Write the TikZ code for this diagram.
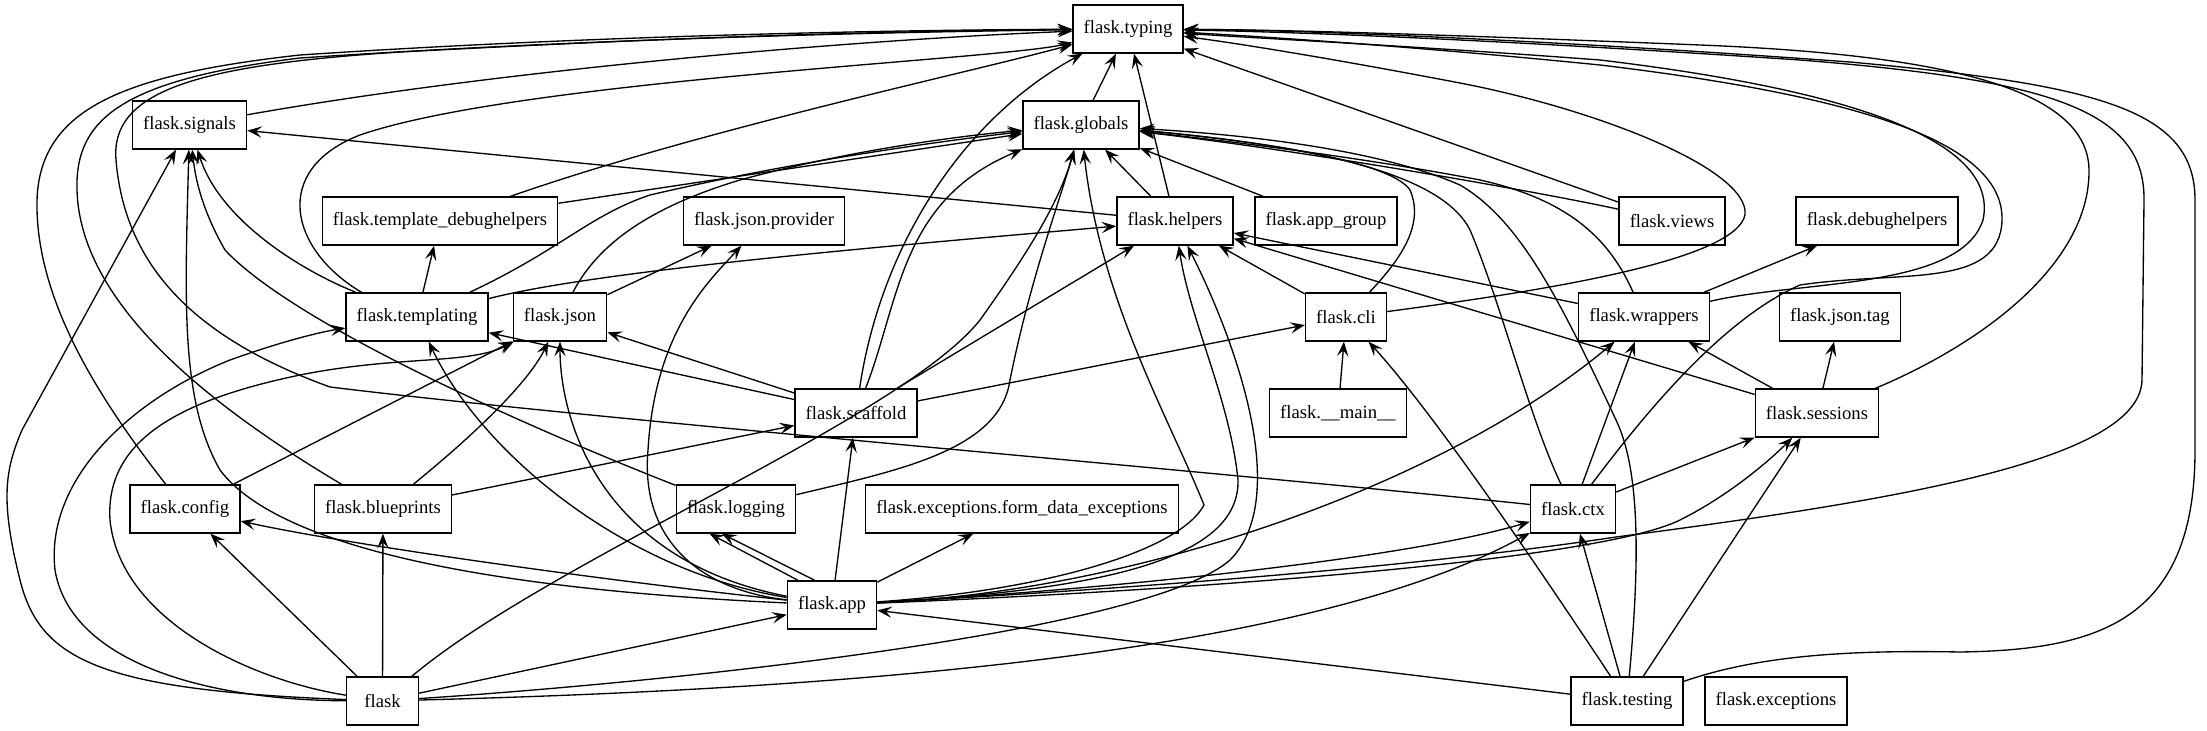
\documentclass[tikz,border=0pt]{standalone}
\usepackage{fontspec}
\setmainfont{Liberation Serif}
\usetikzlibrary{arrows.meta}

\tikzset{
  mod/.style={draw, line width=1pt, minimum height=36pt, minimum width=54pt, inner xsep=8pt, inner ysep=0pt, fill=white, font=\fontsize{14}{16}\selectfont},
  dep/.style={-{Stealth[length=11pt, width=8.5pt, inset=4.5pt]}, line width=1pt}
}

\begin{document}
\begin{tikzpicture}[x=0.75pt, y=-0.75pt]
\useasboundingbox (0,0) rectangle (2207,731);

\node[mod] (typing) at (1128,29) {flask.typing};
\node[mod] (signals) at (189.5,125) {flask.signals};
\node[mod] (globals) at (1081,125) {flask.globals};
\node[mod] (tdh) at (440,221) {flask.template\_debughelpers};
\node[mod] (provider) at (764,221) {flask.json.provider};
\node[mod] (helpers) at (1175,221) {flask.helpers};
\node[mod] (appgroup) at (1326,221) {flask.app\_group};
\node[mod] (views) at (1672,221) {flask.views};
\node[mod] (debughelpers) at (1877,221) {flask.debughelpers};
\node[mod] (templating) at (417,317) {flask.templating};
\node[mod] (json) at (560,317) {flask.json};
\node[mod] (cli) at (1346,317) {flask.cli};
\node[mod] (wrappers) at (1644,317) {flask.wrappers};
\node[mod] (jsontag) at (1840,317) {flask.json.tag};
\node[mod] (scaffold) at (856,413) {flask.scaffold};
\node[mod] (main) at (1338,413) {flask.\_\_main\_\_};
\node[mod] (sessions) at (1817,413) {flask.sessions};
\node[mod] (config) at (185,509) {flask.config};
\node[mod] (blueprints) at (383,509) {flask.blueprints};
\node[mod] (logging) at (736,509) {flask.logging};
\node[mod] (formexc) at (1022,509) {flask.exceptions.form\_data\_exceptions};
\node[mod] (ctx) at (1573,509) {flask.ctx};
\node[mod] (app) at (832,605) {flask.app};
\node[mod] (flask) at (382.5,701) {flask};
\node[mod] (testing) at (1627,701) {flask.testing};
\node[mod] (exceptions) at (1776,701) {flask.exceptions};

% into flask.typing
\draw[dep] (signals) .. controls (500,70) and (850,40) .. (typing);
\draw[dep] (tdh) .. controls (700,130) and (980,70) .. (typing);
\draw[dep] (templating.156) .. controls (290,250) and (270,170) .. (360,135) .. controls (520,80) and (1000,60) .. (typing);
\draw[dep] (globals) -- (typing);
\draw[dep] (helpers) -- (typing);
\draw[dep] (scaffold) .. controls (880,250) and (960,120) .. (typing);
\draw[dep] (config) .. controls (100,400) and (35,300) .. (37,200) .. controls (40,110) and (120,75) .. (300,55) .. controls (600,35) and (900,30) .. (typing);
\draw[dep] (blueprints) .. controls (200,400) and (80,300) .. (77,190) .. controls (75,120) and (120,80) .. (300,58) .. controls (600,38) and (900,32) .. (typing);
\draw[dep] (ctx) .. controls (1200,470) and (600,420) .. (330,387) .. controls (200,340) and (125,270) .. (116,160) .. controls (110,90) and (200,65) .. (400,52) .. controls (700,36) and (900,31) .. (typing);
\draw[dep] (views) -- (typing);
\draw[dep] (cli) .. controls (1550,290) and (1735,260) .. (1745,215) .. controls (1750,170) and (1600,110) .. (1460,83) .. controls (1350,62) and (1250,45) .. (typing);
\draw[dep] (wrappers) .. controls (1800,280) and (1960,290) .. (1983,220) .. controls (2000,140) and (1850,90) .. (1600,60) .. controls (1400,45) and (1250,38) .. (typing);
\draw[dep] (ctx) .. controls (1640,420) and (1720,320) .. (1800,285) .. controls (1900,270) and (2000,290) .. (2002,220) .. controls (2004,140) and (1850,95) .. (1600,65) .. controls (1400,45) and (1250,36) .. (typing);
\draw[dep] (sessions) .. controls (1990,340) and (2090,260) .. (2089,170) .. controls (2088,90) and (1950,55) .. (1700,45) .. controls (1450,35) and (1300,30) .. (typing);
\draw[dep] (app) .. controls (1200,585) and (1450,562) .. (1616,537) .. controls (1900,500) and (2140,460) .. (2142,380) -- (2144,200) .. controls (2145,110) and (2050,80) .. (1800,60) .. controls (1500,40) and (1300,32) .. (typing);
\draw[dep] (testing) .. controls (1760,655) and (1850,650) .. (1960,652) .. controls (2100,650) and (2195,620) .. (2195,450) -- (2195,200) .. controls (2195,110) and (2100,85) .. (1850,62) .. controls (1550,40) and (1300,30) .. (typing);

% into flask.signals
\draw[dep] (flask) .. controls (100,690) and (40,660) .. (20,580) .. controls (0,500) and (5,470) .. (22,430) -- (signals);
\draw[dep] (app) .. controls (500,590) and (280,550) .. (220,470) .. controls (180,400) and (185,300) .. (signals);
\draw[dep] (templating.158) .. controls (300,270) and (220,220) .. (signals);
\draw[dep] (logging) .. controls (560,440) and (300,330) .. (225,250) .. controls (205,215) and (196,185) .. (signals);
\draw[dep] (helpers) -- (signals);

% into flask.globals
\draw[dep] (tdh) -- (globals);
\draw[dep] (templating) .. controls (560,250) and (590,215) .. (650,195) .. controls (800,160) and (950,140) .. (globals);
\draw[dep] (json) .. controls (595,250) and (640,210) .. (740,180) .. controls (850,150) and (960,136) .. (globals);
\draw[dep] (scaffold) .. controls (900,300) and (900,200) .. (globals);
\draw[dep] (flask) .. controls (550,560) and (900,420) .. (980,320) .. controls (1030,250) and (1060,200) .. (globals);
\draw[dep] (logging) .. controls (900,470) and (1000,450) .. (1010,380) .. controls (1030,280) and (1060,200) .. (globals);
\draw[dep] (app) .. controls (1050,590) and (1180,550) .. (1204,505) .. controls (1170,420) and (1100,300) .. (globals);
\draw[dep] (helpers) -- (globals);
\draw[dep] (appgroup) -- (globals);
\draw[dep] (views) .. controls (1540,192) and (1300,150) .. (globals);
\draw[dep] (cli) .. controls (1400,260) and (1425,225) .. (1410,190) .. controls (1390,160) and (1250,140) .. (globals);
\draw[dep] (wrappers) .. controls (1610,240) and (1570,200) .. (1480,180) .. controls (1350,155) and (1200,138) .. (globals);
\draw[dep] (ctx) .. controls (1530,420) and (1500,300) .. (1470,230) .. controls (1440,170) and (1300,145) .. (globals);
\draw[dep] (testing) .. controls (1640,560) and (1640,470) .. (1616,420) .. controls (1560,300) and (1520,220) .. (1460,185) .. controls (1380,150) and (1250,135) .. (globals);

% into flask.helpers
\draw[dep] (templating) .. controls (600,270) and (900,245) .. (helpers);
\draw[dep] (scaffold) -- (helpers);
\draw[dep] (app) .. controls (1100,590) and (1240,560) .. (1238,480) .. controls (1230,400) and (1190,320) .. (helpers);
\draw[dep] (flask) .. controls (700,680) and (1150,630) .. (1230,560) .. controls (1290,500) and (1240,350) .. (helpers);
\draw[dep] (cli) -- (helpers);
\draw[dep] (wrappers) -- (helpers);
\draw[dep] (sessions) -- (helpers);

% into flask.templating and flask.json
\draw[dep] (flask) .. controls (200,700) and (70,660) .. (55,570) .. controls (45,480) and (130,400) .. (230,360) .. controls (280,342) and (320,332) .. (templating);
\draw[dep] (app) .. controls (620,570) and (480,450) .. (templating);
\draw[dep] (scaffold) -- (templating);
\draw[dep] (templating) -- (tdh);
\draw[dep] (flask) .. controls (250,680) and (120,620) .. (110,520) .. controls (105,440) and (180,400) .. (300,375) .. controls (400,355) and (470,365) .. (json);
\draw[dep] (config) -- (json);
\draw[dep] (blueprints) .. controls (480,430) and (530,380) .. (json);
\draw[dep] (app) .. controls (600,560) and (560,420) .. (json);
\draw[dep] (scaffold) -- (json);
\draw[dep] (json) -- (provider);
\draw[dep] (app) .. controls (700,590) and (640,540) .. (648,450) .. controls (655,330) and (710,280) .. (provider);

% remaining
\draw[dep] (flask) -- (config);
\draw[dep] (flask) -- (blueprints);
\draw[dep] (flask) -- (app);
\draw[dep] (flask) .. controls (800,690) and (1300,660) .. (ctx);
\draw[dep] (app) .. controls (600,580) and (350,545) .. (config);
\draw[dep] (app.144) -- (logging.-137);
\draw[dep] (app.125) -- (logging.-120);
\draw[dep] (app) -- (scaffold);
\draw[dep] (app) -- (formexc);
\draw[dep] (app) .. controls (1100,590) and (1400,560) .. (ctx);
\draw[dep] (app) .. controls (1150,590) and (1450,480) .. (wrappers);
\draw[dep] (app) .. controls (1200,590) and (1600,560) .. (1680,520) .. controls (1730,495) and (1770,460) .. (sessions);
\draw[dep] (blueprints) -- (scaffold);
\draw[dep] (scaffold) -- (cli);
\draw[dep] (main) -- (cli);
\draw[dep] (testing) .. controls (1560,600) and (1440,420) .. (cli);
\draw[dep] (wrappers) -- (debughelpers);
\draw[dep] (sessions) -- (jsontag);
\draw[dep] (sessions) -- (wrappers);
\draw[dep] (ctx) -- (wrappers);
\draw[dep] (ctx) -- (sessions);
\draw[dep] (testing) -- (app);
\draw[dep] (testing) -- (ctx);
\draw[dep] (testing) -- (sessions);
\end{tikzpicture}
\end{document}
